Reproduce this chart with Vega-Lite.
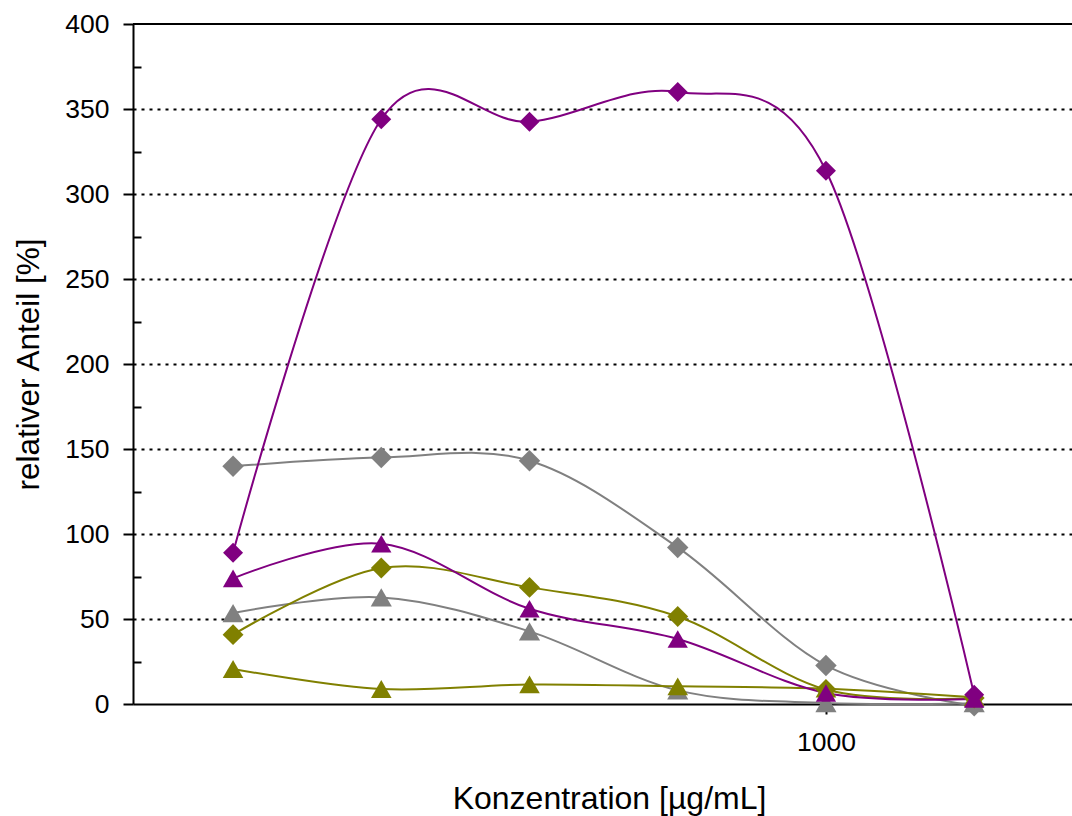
{
  "$schema": "https://vega.github.io/schema/vega-lite/v6.json",
  "width": 939,
  "height": 680,
  "autosize": "none",
  "padding": {"left": 133, "top": 24, "right": 0, "bottom": 112},
  "background": "white",
  "config": {
    "view": {"stroke": null},
    "font": "Liberation Sans"
  },
  "data": {
    "values": [
      {"serie": "Grau Raute", "konz": 200, "anteil": 139.8},
      {"serie": "Grau Raute", "konz": 400, "anteil": 145.0},
      {"serie": "Grau Raute", "konz": 600, "anteil": 143.1},
      {"serie": "Grau Raute", "konz": 800, "anteil": 92.1},
      {"serie": "Grau Raute", "konz": 1000, "anteil": 22.7},
      {"serie": "Grau Raute", "konz": 1200, "anteil": -1.0},

      {"serie": "Grau Dreieck", "konz": 200, "anteil": 53.5},
      {"serie": "Grau Dreieck", "konz": 400, "anteil": 62.7},
      {"serie": "Grau Dreieck", "konz": 600, "anteil": 42.7},
      {"serie": "Grau Dreieck", "konz": 800, "anteil": 8.0},
      {"serie": "Grau Dreieck", "konz": 1000, "anteil": 0.6},
      {"serie": "Grau Dreieck", "konz": 1200, "anteil": 0.5},

      {"serie": "Oliv Raute", "konz": 200, "anteil": 40.8},
      {"serie": "Oliv Raute", "konz": 400, "anteil": 80.0},
      {"serie": "Oliv Raute", "konz": 600, "anteil": 68.6},
      {"serie": "Oliv Raute", "konz": 800, "anteil": 51.5},
      {"serie": "Oliv Raute", "konz": 1000, "anteil": 8.5},
      {"serie": "Oliv Raute", "konz": 1200, "anteil": 3.5},

      {"serie": "Oliv Dreieck", "konz": 200, "anteil": 20.6},
      {"serie": "Oliv Dreieck", "konz": 400, "anteil": 8.8},
      {"serie": "Oliv Dreieck", "konz": 600, "anteil": 11.5},
      {"serie": "Oliv Dreieck", "konz": 800, "anteil": 10.4},
      {"serie": "Oliv Dreieck", "konz": 1000, "anteil": 9.0},
      {"serie": "Oliv Dreieck", "konz": 1200, "anteil": 4.0},

      {"serie": "Violett Dreieck", "konz": 200, "anteil": 73.9},
      {"serie": "Violett Dreieck", "konz": 400, "anteil": 94.3},
      {"serie": "Violett Dreieck", "konz": 600, "anteil": 56.0},
      {"serie": "Violett Dreieck", "konz": 800, "anteil": 38.2},
      {"serie": "Violett Dreieck", "konz": 1000, "anteil": 6.5},
      {"serie": "Violett Dreieck", "konz": 1200, "anteil": 3.0},

      {"serie": "Violett Raute", "konz": 200, "anteil": 89.0},
      {"serie": "Violett Raute", "konz": 400, "anteil": 344.0},
      {"serie": "Violett Raute", "konz": 600, "anteil": 342.5},
      {"serie": "Violett Raute", "konz": 800, "anteil": 360.0},
      {"serie": "Violett Raute", "konz": 1000, "anteil": 313.7},
      {"serie": "Violett Raute", "konz": 1200, "anteil": 5.5}
    ]
  },
  "encoding": {
    "x": {
      "field": "konz",
      "type": "quantitative",
      "scale": {"domain": [65, 1332], "nice": false, "zero": false},
      "axis": {
        "values": [1000],
        "format": "d",
        "grid": false,
        "domainColor": "black",
        "domainWidth": 2,
        "tickColor": "black",
        "tickWidth": 2,
        "tickSize": 10,
        "labelFontSize": 26.5,
        "labelColor": "black",
        "labelPadding": 15,
        "title": "Konzentration [µg/mL]",
        "titleFontSize": 32,
        "titleFontWeight": "normal",
        "titleColor": "black",
        "titleX": 476,
        "titleY": 104,
        "titleBaseline": "alphabetic"
      }
    },
    "y": {
      "field": "anteil",
      "type": "quantitative",
      "scale": {"domain": [0, 400], "nice": false},
      "axis": {
        "values": [0, 25, 50, 75, 100, 125, 150, 175, 200, 225, 250, 275, 300, 325, 350, 375, 400],
        "labelExpr": "datum.value % 50 === 0 ? datum.label : ''",
        "domainColor": "black",
        "domainWidth": 2,
        "tickColor": "black",
        "tickWidth": 2,
        "tickSize": {"condition": {"test": "datum.value % 50 === 0", "value": 10}, "value": -8},
        "labelFontSize": 26.5,
        "labelColor": "black",
        "labelPadding": 14,
        "grid": true,
        "gridColor": "black",
        "gridWidth": 2,
        "gridDash": [3, 5],
        "gridOpacity": {"condition": {"test": "datum.value % 50 === 0 && datum.value > 0 && datum.value < 400", "value": 1}, "value": 0},
        "title": "relativer Anteil [%]",
        "titleFontSize": 31.5,
        "titleFontWeight": "normal",
        "titleColor": "black",
        "titleAngle": 270,
        "titleX": -95,
        "titleY": 340,
        "titleAlign": "center",
        "titleBaseline": "alphabetic"
      }
    }
  },
  "layer": [
    {
      "mark": {"type": "rule", "color": "black", "strokeWidth": 2},
      "encoding": {"y": {"datum": 400}, "x": null}
    },
    {
      "mark": {"type": "line", "interpolate": "cardinal", "strokeWidth": 2, "clip": false},
      "encoding": {
        "color": {
          "field": "serie",
          "type": "nominal",
          "sort": null,
          "scale": {
            "domain": ["Grau Raute", "Grau Dreieck", "Oliv Raute", "Oliv Dreieck", "Violett Dreieck", "Violett Raute"],
            "range": ["#808080", "#808080", "#808000", "#808000", "#800080", "#800080"]
          },
          "legend": null
        }
      }
    },
    {
      "mark": {"type": "point", "filled": true, "opacity": 1, "strokeWidth": 0, "clip": false},
      "encoding": {
        "color": {"field": "serie", "type": "nominal", "legend": null},
        "shape": {
          "field": "serie",
          "type": "nominal",
          "scale": {
            "domain": ["Grau Raute", "Grau Dreieck", "Oliv Raute", "Oliv Dreieck", "Violett Dreieck", "Violett Raute"],
            "range": ["diamond", "triangle-up", "diamond", "triangle-up", "triangle-up", "diamond"]
          },
          "legend": null
        },
        "size": {
          "field": "serie",
          "type": "nominal",
          "scale": {
            "domain": ["Grau Raute", "Grau Dreieck", "Oliv Raute", "Oliv Dreieck", "Violett Dreieck", "Violett Raute"],
            "range": [460, 400, 460, 400, 400, 460]
          },
          "legend": null
        }
      }
    }
  ]
}
